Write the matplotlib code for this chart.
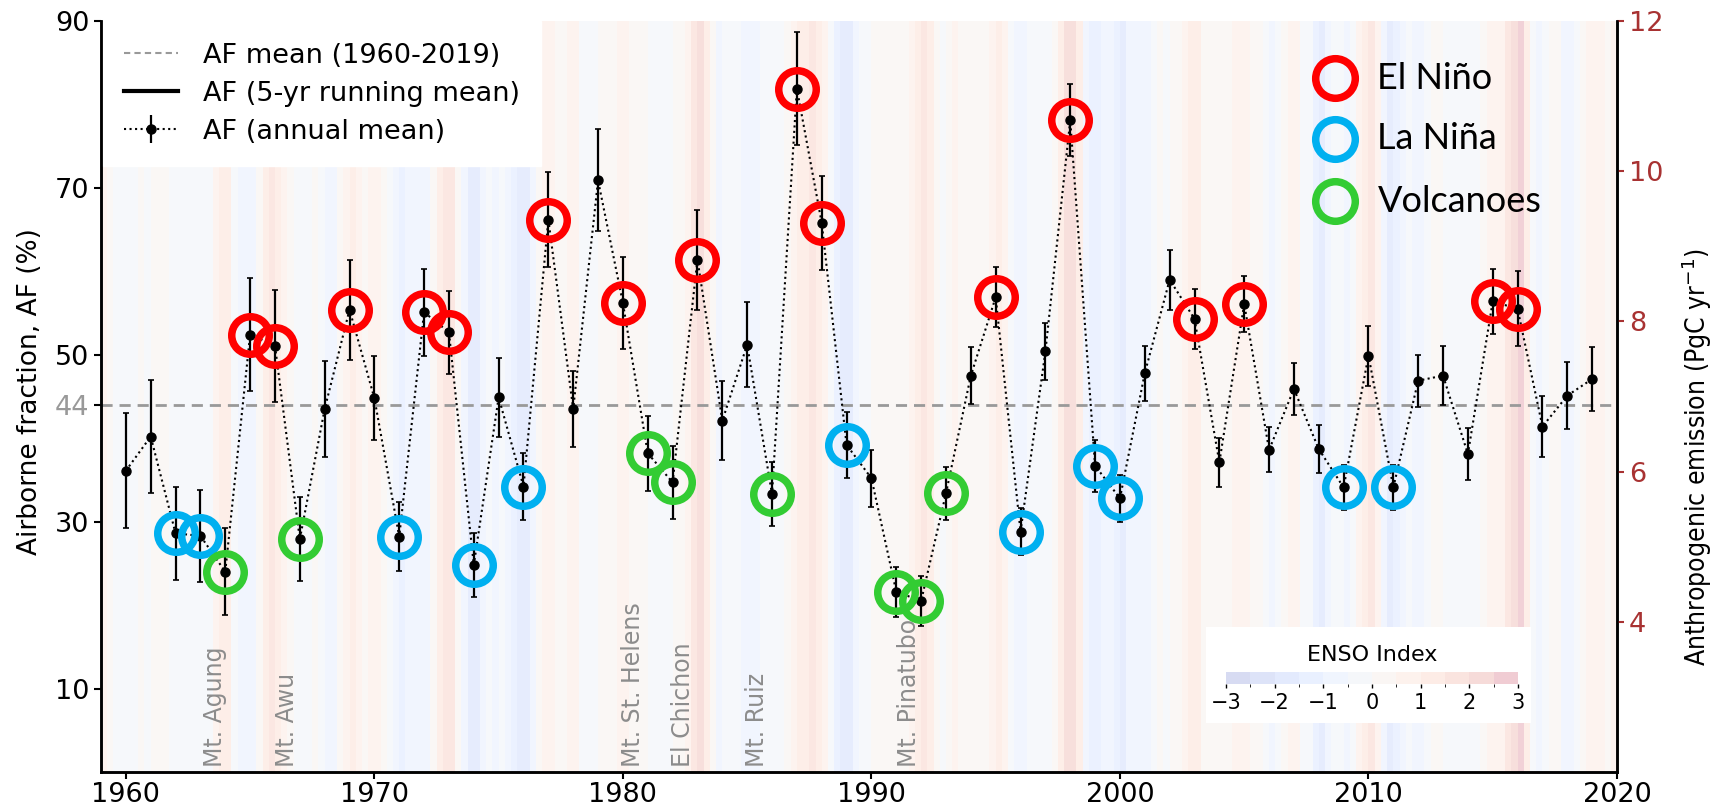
import numpy as np
import matplotlib
matplotlib.use("Agg")
import matplotlib.pyplot as plt
from matplotlib.colors import BoundaryNorm, ListedColormap
from matplotlib.lines import Line2D
import matplotlib.patches as mpatches

# ---------------- data ----------------
years = list(range(1960, 2020))
af = [36.1, 40.2, 28.6, 28.3, 24.0, 52.4, 51.1, 27.9, 43.5, 55.4,
      44.8, 28.2, 55.1, 52.7, 24.8, 44.9, 34.2, 66.2, 43.5, 70.9,
      56.2, 38.2, 34.7, 61.4, 42.1, 51.2, 33.3, 81.9, 65.8, 39.2,
      35.2, 21.6, 20.5, 33.4, 47.5, 56.9, 28.8, 50.4, 78.1, 36.7,
      32.8, 47.8, 59.0, 54.3, 37.1, 56.1, 38.6, 45.9, 38.7, 34.1,
      49.9, 34.1, 46.9, 47.5, 38.1, 56.4, 55.5, 41.4, 45.1, 47.1]
af_err = [6.9, 6.8, 5.6, 5.5, 5.2, 6.8, 6.7, 5.0, 5.8, 6.0,
          5.0, 4.1, 5.2, 5.0, 3.8, 4.7, 4.0, 5.7, 4.5, 6.1,
          5.5, 4.5, 4.4, 6.0, 4.7, 5.1, 3.8, 6.8, 5.6, 4.0,
          3.4, 3.0, 3.0, 3.2, 3.4, 3.6, 2.8, 3.4, 4.3, 3.1,
          2.8, 3.3, 3.6, 3.6, 2.9, 3.4, 2.7, 3.1, 2.9, 2.7,
          3.6, 2.7, 3.1, 3.5, 3.1, 3.9, 4.5, 3.7, 4.0, 3.8]
af_mean = 44

el_nino_years = [1965, 1966, 1969, 1972, 1973, 1977, 1980, 1983, 1987, 1988,
                 1995, 1998, 2003, 2005, 2015, 2016]
la_nina_years = [1962, 1963, 1971, 1974, 1976, 1989, 1996, 1999, 2000, 2009, 2011]
volcano_years = [1964, 1967, 1981, 1982, 1986, 1991, 1992, 1993]

volcano_names = ["Mt. Agung", "Mt. Awu", "Mt. St. Helens", "El Chichon", "Mt. Ruiz", "Mt. Pinatubo"]
volcano_label_x = [1963.6, 1966.5, 1980.4, 1982.4, 1985.4, 1991.5]

# seasonal ENSO index (DJF, MAM, JJA, SON), 1959-2019
enso_start = 1959
enso = [
    0.6, 0.1, -0.3, -0.1,   -0.1, -0.1, 0.0, -0.1,   0.0, 0.0, 0.2, -0.4,
    -0.3, -0.2, -0.1, -0.4,  -0.4, -0.2, 0.6, 1.0,    1.0, -0.2, -0.6, -0.8,
    -0.6, 0.1, 1.2, 1.7,     1.3, 0.6, 0.1, -0.2,     -0.4, -0.3, 0.1, -0.3,
    -0.7, -0.6, 0.3, 0.6,    1.1, 0.8, 0.4, 0.8,      0.5, 0.0, -0.5, -0.8,
    -1.4, -0.9, -0.7, -0.9,  -0.7, 0.3, 1.2, 1.8,     1.8, 0.3, -0.9, -1.7,
    -1.9, -0.9, -0.5, -0.8,  -0.5, -0.9, -1.2, -1.6,  -1.6, -0.6, 0.3, 0.8,
    0.7, 0.2, 0.4, 0.8,      0.7, -0.2, -0.3, -0.1,   0.0, 0.1, 0.0, 0.5,
    0.6, 0.3, 0.3, 0.0,      -0.3, -0.4, -0.3, -0.1,  0.0, 0.3, 0.7, 1.8,
    2.2, 1.2, 0.0, -0.7,     -0.4, -0.4, -0.3, -0.6,  -0.9, -0.7, -0.5, -0.3,
    -0.5, -0.2, 0.4, 0.9,    1.2, 1.2, 1.5, 1.2,      0.8, -0.3, -1.1, -1.7,
    -1.7, -0.9, -0.3, -0.2,  0.1, 0.2, 0.3, 0.3,      0.4, 0.3, 0.7, 1.0,
    1.7, 1.1, 0.3, -0.1,     0.1, 0.6, 0.3, 0.1,      0.1, 0.3, 0.4, 0.9,
    1.0, 0.5, -0.1, -0.8,    -0.9, -0.5, -0.3, -0.4,  -0.5, 0.3, 1.4, 2.2,
    2.2, 1.0, -0.8, -1.3,    -1.5, -1.0, -1.0, -1.3,  -1.7, -0.8, -0.6, -0.7,
    -0.7, -0.3, 0.0, -0.2,   0.0, 0.3, 0.8, 1.2,      1.0, 0.0, 0.2, 0.3,
    0.4, 0.2, 0.5, 0.7,      0.6, 0.4, 0.0, -0.4,     -0.9, -0.4, 0.1, 0.8,
    0.7, -0.1, -0.4, -1.2,   -1.6, -0.9, -0.3, -0.5,  -0.8, -0.3, 0.5, 1.2,
    1.5, 0.7, -1.0, -1.6,    -1.4, -0.7, -0.4, -1.0,  -0.9, -0.4, 0.3, 0.3,
    -0.4, -0.3, -0.4, -0.2,  -0.4, -0.1, 0.1, 0.5,    0.5, 0.8, 1.6, 2.4,
    2.5, 1.1, -0.3, -0.7,    -0.3, 0.2, 0.2, -0.7,    -0.9, -0.5, 0.1, 0.8,
    0.8, 0.7, 0.3, 0.5,
]

# ---------------- figure ----------------
W, H = 1716, 806
fig = plt.figure(figsize=(W / 100, H / 100), dpi=100)
L, R, B, T = 101, 1617, 772, 21
ax = fig.add_axes([L / W, (H - B) / H, (R - L) / W, (B - T) / H])
ax2 = ax.twinx()

years_a = np.array(years)
af_a = np.array(af)
err_a = np.array(af_err)

# ENSO stripes background
bounds = np.arange(-3, 3.01, 0.5)
cmap = ListedColormap(plt.get_cmap("coolwarm")(np.linspace(0, 1, len(bounds) - 1)))
norm = BoundaryNorm(bounds, cmap.N)
enso_a = np.array(enso)
edges = enso_start + 0.25 * np.arange(len(enso_a) + 1)
ax.pcolormesh(edges, [0, 90], enso_a[np.newaxis, :], cmap=cmap, norm=norm,
              alpha=0.18, zorder=0, shading="flat", edgecolor="none", linewidth=0)

# mean line
ax.axhline(af_mean, color="#999999", ls=(0, (4, 2.5)), lw=2, zorder=1)

# annual mean with error bars
ax.errorbar(years_a, af_a, yerr=err_a, fmt="o", color="black", ms=6.5,
            ecolor="black", elinewidth=1.6, capsize=2, capthick=1.2, zorder=3)
ax.plot(years_a, af_a, ls=(0, (1, 1.6)), color="black", lw=1.5, zorder=2)

# event circles
def ring(yrs, color):
    idx = [years.index(y) for y in yrs]
    ax.plot(years_a[idx], af_a[idx], "o", ms=27, mfc="none", mec=color, mew=5.4, zorder=4)

ring(el_nino_years, "#ff0000")
ring(la_nina_years, "#00b0f0")
ring(volcano_years, "#33cc33")

# volcano labels
for nm, xv in zip(volcano_names, volcano_label_x):
    ax.text(xv, 0.6, nm, rotation=90, ha="center", va="bottom",
            fontsize=17, color="#8c8c8c", zorder=2)

# axes setup
ax.set_xlim(1959, 2020)
ax.set_ylim(0, 90)
ax.set_xticks([1960, 1970, 1980, 1990, 2000, 2010, 2020])
ax.set_yticks([10, 30, 50, 70, 90, 44])
ax.tick_params(axis="both", labelsize=19.5, length=5, width=1.5)
ax.tick_params(axis="x", pad=2)
for lab in ax.get_yticklabels():
    if lab.get_text() == "44":
        lab.set_color("#999999")
ax.set_ylabel("Airborne fraction, AF (%)", fontsize=19)
ax.yaxis.set_label_coords(-0.038, 0.507)

ax2.set_ylim(2, 12)
ax2.set_yticks([4, 6, 8, 10, 12])
ax2.tick_params(axis="y", labelsize=19.5, length=5, width=1.5, colors="#a83232")
ax2.set_ylabel("Anthropogenic emission (PgC yr$^{-1}$)", fontsize=19,
               family=["Liberation Sans Narrow", "DejaVu Sans"], stretch="condensed")
ax2.yaxis.set_label_coords(1.041, 0.42)

for a in (ax, ax2):
    a.spines["top"].set_visible(False)
    for s in ("left", "right", "bottom"):
        a.spines[s].set_linewidth(1.8)
        a.spines[s].set_color("black")

# main legend
h_mean = Line2D([], [], color="#999999", ls=(0, (3, 2)), lw=1.5)
h_run = Line2D([], [], color="black", lw=3)
h_ann = ax.errorbar([], [], yerr=[], fmt="o", color="black", ms=6.5, elinewidth=1.6,
                    capsize=2, ls=":", lw=1.5)
leg = ax.legend([h_mean, h_run, h_ann],
                ["AF mean (1960-2019)", "AF (5-yr running mean)", "AF (annual mean)"],
                loc="upper left", bbox_to_anchor=(0.001, 1.0), fontsize=19.5,
                frameon=True, fancybox=False, framealpha=1, edgecolor="white",
                handlelength=2.0, labelspacing=0.44, borderpad=0.8, borderaxespad=0,
                handletextpad=0.9)
leg.set_zorder(10)

# ENSO event legend (top right)
ev_labels = ["El Niño", "La Niña", "Volcanoes"]
ev_colors = ["#ff0000", "#00b0f0", "#33cc33"]
ev_y = [0.924, 0.843, 0.760]
for lbl, c, yy in zip(ev_labels, ev_colors, ev_y):
    ax.plot([0.814], [yy], "o", ms=28.5, mfc="none", mec=c, mew=5.4,
            transform=ax.transAxes, zorder=6, clip_on=False)
    ax.text(0.842, yy, lbl, transform=ax.transAxes, fontsize=26,
            family=["Lato", "DejaVu Sans"], va="center", ha="left", zorder=6)

# colorbar box
box = mpatches.Rectangle((0.729, 0.065), 0.214, 0.128, transform=ax.transAxes,
                         facecolor="white", edgecolor="none", zorder=7)
ax.add_patch(box)
cax = fig.add_axes([1226 / W, (H - 684) / H, (1518 - 1226) / W, 12 / H])
cax.set_zorder(8)
sm = plt.cm.ScalarMappable(norm=norm, cmap=cmap)
cb = fig.colorbar(sm, cax=cax, orientation="horizontal", ticks=[-3, -2, -1, 0, 1, 2, 3],
                  alpha=0.2)
cb.outline.set_visible(False)
cb.ax.tick_params(labelsize=15, length=3, width=1)
cax.set_title("ENSO Index", fontsize=16, pad=8)

fig.savefig("out.png", dpi=100)
